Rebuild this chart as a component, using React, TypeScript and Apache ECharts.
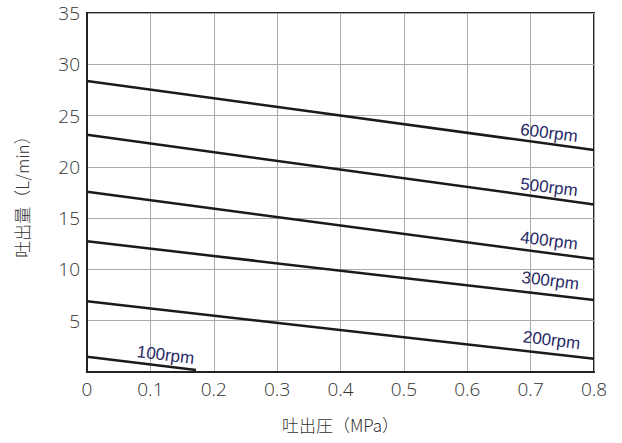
import React, { useEffect, useRef } from "react";
import * as echarts from "echarts";

const pressureTicks = [0, 0.1, 0.2, 0.3, 0.4, 0.5, 0.6, 0.7, 0.8];
const rpm600 = [[0, 28.36], [0.8, 21.64]];
const rpm500 = [[0, 23.13], [0.8, 16.34]];
const rpm400 = [[0, 17.57], [0.8, 11.01]];
const rpm300 = [[0, 12.74], [0.8, 7.02]];
const rpm200 = [[0, 6.89], [0.8, 1.3]];
const rpm100 = [[0, 1.49], [0.172, 0.2]];
const seriesNames = ["600rpm", "500rpm", "400rpm", "300rpm", "200rpm", "100rpm"];
const labelAnchors = [
  [0.729, 23.3],
  [0.729, 18.0],
  [0.729, 12.8],
  [0.731, 8.9],
  [0.733, 3.1],
  [0.124, 1.65],
];

export default function App() {
  const ref = useRef<HTMLDivElement>(null);
  useEffect(() => {
    if (!ref.current) return;
    const chart = echarts.init(ref.current, null, { renderer: "svg" });
    const all = [rpm600, rpm500, rpm400, rpm300, rpm200, rpm100];
    const font = '"Noto Sans CJK JP", "Noto Sans", sans-serif';
    const numFont = '"Open Sans", "Noto Sans", sans-serif';
    chart.setOption({
      animation: false,
      grid: {
        left: 87,
        top: 13,
        right: 28,
        bottom: 71,
        show: true,
        borderColor: "#222",
        borderWidth: 2,
        backgroundColor: "transparent",
      },
      xAxis: {
        type: "value",
        min: 0,
        max: 0.8,
        interval: 0.1,
        name: "吐出圧（MPa）",
        nameLocation: "middle",
        nameGap: 44,
        nameTextStyle: { fontFamily: font, fontSize: 17, color: "#333", fontWeight: 300 },
        axisLine: { show: true, lineStyle: { color: "#222", width: 2 } },
        axisTick: { show: false },
        axisLabel: {
          color: "#333",
          fontSize: 19,
          fontFamily: numFont,
          fontWeight: 300,
          margin: 7,
          formatter: (v: number) => {
            const t = pressureTicks.find((p) => Math.abs(p - v) < 1e-6);
            return t === undefined ? "" : String(t);
          },
        },
        splitLine: { show: true, lineStyle: { color: "#aaa", width: 1 } },
      },
      yAxis: {
        type: "value",
        min: 0,
        max: 35,
        interval: 5,
        name: "吐出量（L/min）",
        nameLocation: "middle",
        nameRotate: 90,
        nameGap: 57,
        nameTextStyle: { fontFamily: font, fontSize: 17, color: "#333", fontWeight: 300 },
        axisLine: { show: true, lineStyle: { color: "#222", width: 2 } },
        axisTick: { show: false },
        axisLabel: {
          color: "#333",
          fontSize: 19,
          fontFamily: numFont,
          fontWeight: 300,
          margin: 7,
          formatter: (v: number) => (v === 0 ? "" : String(v)),
        },
        splitLine: { show: true, lineStyle: { color: "#aaa", width: 1 } },
      },
      series: all.map((d, i) => ({
        type: "line",
        name: seriesNames[i],
        data: d,
        symbol: "none",
        lineStyle: { color: "#1a1a1a", width: 2.5 },
        markPoint: {
          symbol: "circle",
          symbolSize: 0,
          data: [
            {
              coord: labelAnchors[i],
              label: {
                show: true,
                formatter: seriesNames[i],
                position: "inside",
                rotate: -7,
                color: "#2a2a66",
                fontSize: 17,
                fontFamily: '"Liberation Sans", Arial, sans-serif',
              },
            },
          ],
        },
      })),
    });
    return () => chart.dispose();
  }, []);
  return <div ref={ref} style={{ width: 622, height: 443, position: "absolute", left: 0, top: 0 }} />;
}
